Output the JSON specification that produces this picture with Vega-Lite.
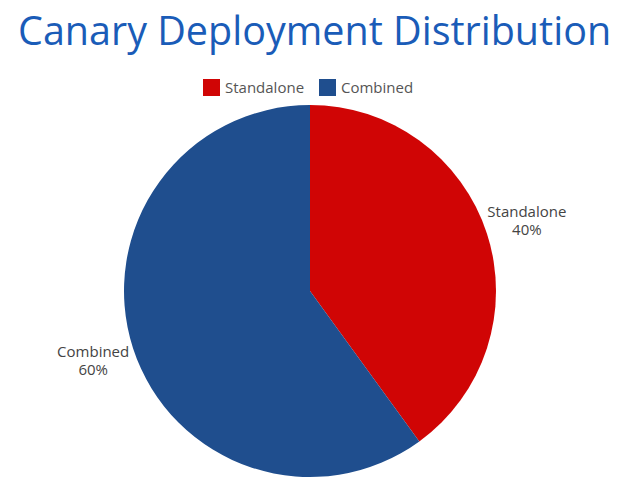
{
  "$schema": "https://vega.github.io/schema/vega-lite/v6.json",
  "width": 620,
  "height": 372,
  "autosize": {"type": "none"},
  "padding": {"left": 0, "top": 105, "right": 16, "bottom": 5},
  "background": "white",
  "title": {
    "text": "Canary Deployment Distribution",
    "anchor": "start",
    "frame": "group",
    "baseline": "alphabetic",
    "offset": -5,
    "dx": 18,
    "font": "Open Sans",
    "fontSize": 39.5,
    "fontWeight": "normal",
    "color": "#1a5cb8"
  },
  "data": {
    "values": [
      {"category": "Standalone", "percent": 40, "label": "Standalone\n40%"},
      {"category": "Combined", "percent": 60, "label": "Combined\n60%"}
    ]
  },
  "encoding": {
    "theta": {"field": "percent", "type": "quantitative", "stack": true},
    "order": {"field": "percent", "type": "quantitative", "sort": "ascending"}
  },
  "layer": [
    {
      "mark": {"type": "arc", "stroke": null},
      "encoding": {
        "color": {
          "field": "category",
          "type": "nominal",
          "scale": {"domain": ["Standalone", "Combined"], "range": ["#d00505", "#1f4e8e"]},
          "legend": {
            "title": null,
            "orient": "none",
            "direction": "horizontal",
            "legendX": 203,
            "legendY": -26,
            "symbolType": "square",
            "symbolSize": 289,
            "symbolStrokeWidth": 0,
            "labelFont": "Open Sans",
            "labelFontSize": 15,
            "labelColor": "#555555",
            "labelOffset": 5,
            "columnPadding": 14
          }
        }
      }
    },
    {
      "mark": {
        "type": "text",
        "radius": 228,
        "font": "Open Sans",
        "fontSize": 15,
        "color": "#444444",
        "lineBreak": "\n",
        "align": "center",
        "baseline": "middle",
        "lineHeight": 18,
        "dy": -9
      },
      "encoding": {
        "text": {"field": "label", "type": "nominal"}
      }
    }
  ]
}
